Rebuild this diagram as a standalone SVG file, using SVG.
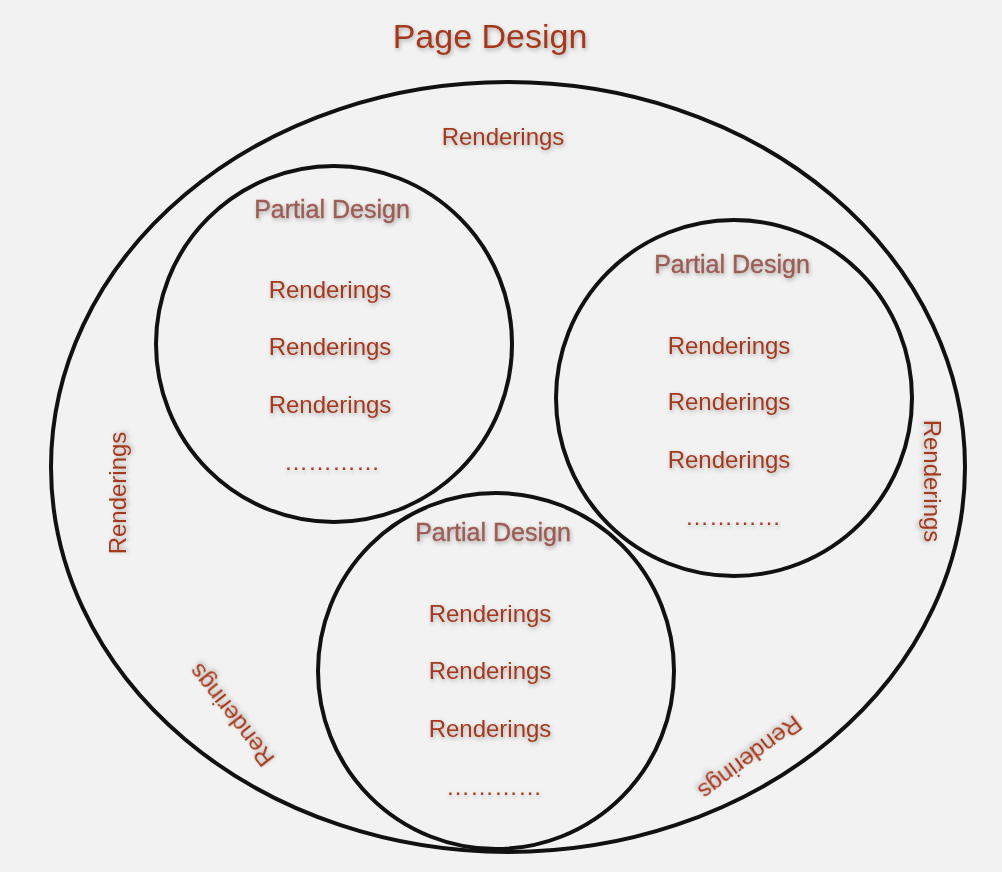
<svg xmlns="http://www.w3.org/2000/svg" width="1002" height="872" viewBox="0 0 1002 872">
<defs>
<filter id="sh" x="-10%" y="-30%" width="120%" height="160%"><feDropShadow dx="1" dy="2" stdDev="1.5" flood-color="#000" flood-opacity="0.3"/></filter>
<style>
text{font-family:"Liberation Sans",Arial,sans-serif;text-anchor:middle;filter:url(#sh)}
.r{font-size:24px;fill:#a3381c}
.p{font-size:25px;fill:#9b5d54;stroke:#9b5d54;stroke-width:0.4}
.c{fill:none;stroke:#111;stroke-width:4}
</style>
</defs>
<rect width="1002" height="872" fill="#f2f2f2"/>
<g id="page">
<ellipse class="c" cx="508" cy="467" rx="457" ry="385"/>
<text x="490" y="48" style="font-size:34px;fill:#a3381c">Page Design</text>
<text class="r" x="503" y="145">Renderings</text>
<text class="r" transform="translate(126,493) rotate(-90)">Renderings</text>
<text class="r" transform="translate(924,481) rotate(90)">Renderings</text>
<text class="r" transform="translate(238,710) rotate(-128)">Renderings</text>
<text class="r" transform="translate(745,751) rotate(143)">Renderings</text>
</g>
<g id="partial1">
<circle class="c" cx="334" cy="344" r="178"/>
<text class="p" x="332" y="218">Partial Design</text>
<text class="r" x="330" y="298">Renderings</text>
<text class="r" x="330" y="355">Renderings</text>
<text class="r" x="330" y="413">Renderings</text>
<text class="r" x="332" y="470">…………</text>
</g>
<g id="partial2">
<circle class="c" cx="734" cy="398" r="178"/>
<text class="p" x="732" y="273">Partial Design</text>
<text class="r" x="729" y="354">Renderings</text>
<text class="r" x="729" y="410">Renderings</text>
<text class="r" x="729" y="468">Renderings</text>
<text class="r" x="733" y="525">…………</text>
</g>
<g id="partial3">
<circle class="c" cx="496" cy="671" r="178"/>
<text class="p" x="493" y="541">Partial Design</text>
<text class="r" x="490" y="622">Renderings</text>
<text class="r" x="490" y="679">Renderings</text>
<text class="r" x="490" y="737">Renderings</text>
<text class="r" x="494" y="795">…………</text>
</g>
<g id="connectors"/>
</svg>
